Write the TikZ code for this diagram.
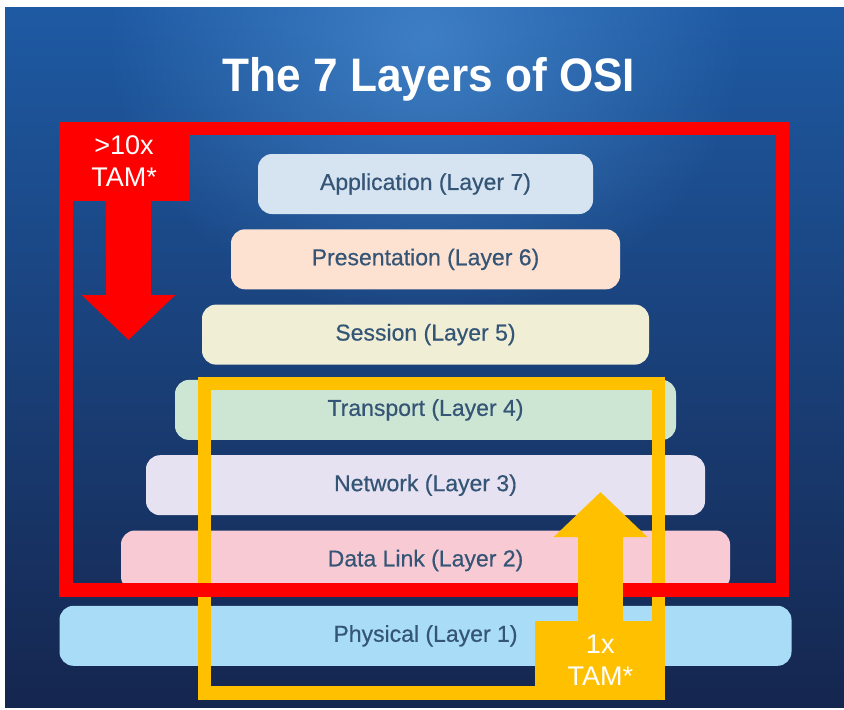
\documentclass[tikz,border=0pt]{standalone}
\usepackage{fontspec}
\setmainfont{Liberation Sans}
\newfontfamily\layerfont{Liberation Sans}[FakeBold=0.5]
\usetikzlibrary{positioning, arrows.meta, fadings}

\definecolor{bgtop}{HTML}{1E5AA3}
\definecolor{bgmid}{HTML}{1B4B91}
\definecolor{bgbot}{HTML}{15264F}
\definecolor{bgglow}{HTML}{4C8FD4}
\definecolor{layertext}{HTML}{355576}
\definecolor{appfill}{HTML}{D6E4F2}
\definecolor{presfill}{HTML}{FDE2D2}
\definecolor{sessfill}{HTML}{F0EFD6}
\definecolor{transfill}{HTML}{CDE6D3}
\definecolor{netfill}{HTML}{E6E2F2}
\definecolor{linkfill}{HTML}{F8CBD4}
\definecolor{physfill}{HTML}{A9DCF6}
\definecolor{tamred}{HTML}{FF0000}
\definecolor{tamgold}{HTML}{FFC000}

\tikzfading[name=glowfade, inner color=transparent!30, outer color=transparent!100]

\begin{document}
\begin{tikzpicture}[x=1pt, y=-1pt, node distance=75.3pt, on grid,
    layer/.style={rectangle, rounded corners=14pt, minimum height=60pt, inner sep=0pt,
        text=layertext, font=\layerfont\fontsize{23}{27}\selectfont},
    frame/.style={line width=13.5pt},
    tag/.style={rectangle, inner sep=0pt, minimum width=130pt, minimum height=79pt,
        text=white, align=center, font=\fontsize{27}{32}\selectfont},
    bigarrow/.style={line width=45pt, -{Triangle[length=45pt, width=91pt]}}]

    % PAGE AND BACKGROUND
    \fill[white] (0,0) rectangle (844,710);
    \useasboundingbox (0,0) rectangle (844,710);
    \begin{scope}
        \clip (5,7) rectangle (844,707);
        \shade[top color=bgtop, middle color=bgmid, bottom color=bgbot] (5,7) rectangle (844,707);
        \fill[bgglow, path fading=glowfade] (425,40) ellipse (320pt and 280pt);
    \end{scope}

    % TITLE
    \node[text=white, font=\bfseries\fontsize{47}{50}\selectfont] (title) at (429,79)
        {\scalebox{0.94}[1]{The 7 Layers of OSI}};

    % LAYERS
    \node[layer, fill=appfill, minimum width=335pt] (app) at (425.5,184) {Application (Layer 7)};
    \node[layer, fill=presfill, minimum width=389pt] (pres) [below=of app] {Presentation (Layer 6)};
    \node[layer, fill=sessfill, minimum width=447pt] (sess) [below=of pres] {Session (Layer 5)};
    \node[layer, fill=transfill, minimum width=501pt] (trans) [below=of sess] {Transport (Layer 4)};
    \node[layer, fill=netfill, minimum width=559pt] (net) [below=of trans] {Network (Layer 3)};
    \node[layer, fill=linkfill, minimum width=609pt] (link) [below=of net] {Data Link (Layer 2)};
    \node[layer, fill=physfill, minimum width=732pt] (phys) [below=of link] {Physical (Layer 1)};

    % FRAMES
    \draw[frame, draw=tamgold] (204.5,383.5) rectangle (658.5,693);
    \draw[frame, draw=tamred] (66,128.5) rectangle (782.5,590);

    % TAGS AND ARROWS
    \node[tag, fill=tamgold] (goldtag) at (600.25,660.5) {1x\\TAM*};
    \coordinate (goldtip) at (600.5,492);
    \draw[bigarrow, tamgold] (goldtip |- goldtag.north) -- (goldtip);

    \node[tag, fill=tamred] (redtag) at (124,161.5) {>10x\\TAM*};
    \coordinate (redtip) at (128.5,340);
    \draw[bigarrow, tamred] (redtip |- redtag.south) -- (redtip);

\end{tikzpicture}
\end{document}
